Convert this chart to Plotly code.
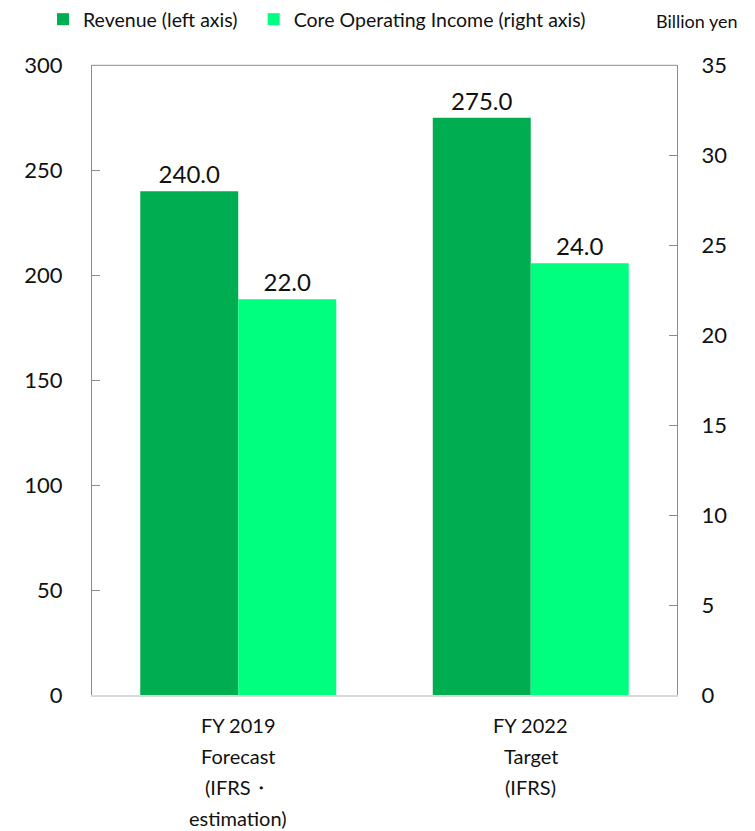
import plotly.graph_objects as go

categories = ["FY 2019", "FY 2022"]
category_lines = [
    ["FY 2019", "Forecast", "(IFRS・", "estimation)"],
    ["FY 2022", "Target", "(IFRS)"],
]
revenue = [240.0, 275.0]
core_income = [22.0, 24.0]

FONT = "Lato, Calibri, Carlito, sans-serif"
AXIS_GRAY = "#8c8c8c"
LINE_STEP = 31  # spacing between category label lines, px

fig = go.Figure()
fig.add_trace(go.Bar(
    x=categories, y=revenue, name="Revenue (left axis)",
    marker=dict(color="#00AD50", line=dict(width=0)),
    text=[f"{v:.1f}" for v in revenue], textposition="outside",
    textfont=dict(size=24, color="#111"), cliponaxis=False,
    offsetgroup="rev", yaxis="y", legend="legend",
))
fig.add_trace(go.Bar(
    x=categories, y=core_income, name="Core Operating Income (right axis)",
    marker=dict(color="#00FF7F", line=dict(width=0)),
    text=[f"{v:.1f}" for v in core_income], textposition="outside",
    textfont=dict(size=24, color="#111"), cliponaxis=False,
    offsetgroup="core", yaxis="y2", legend="legend2",
))

# multi-line category labels with wide line spacing
annotations = []
for cat, lines in zip(categories, category_lines):
    for i, line in enumerate(lines):
        annotations.append(dict(
            text=line, x=cat, xref="x", y=0, yref="paper",
            yanchor="middle", yshift=-30 - i * LINE_STEP,
            showarrow=False, font=dict(size=20, color="#111"),
            borderpad=0,
        ))
annotations.append(dict(
    text="Billion yen", xref="paper", yref="paper",
    x=1.108, y=1.049, xanchor="right", yanchor="bottom",
    showarrow=False, font=dict(size=18, color="#111"),
))

legend_style = dict(orientation="h", y=1.0, yref="container", yanchor="top",
                    xanchor="left", xref="container", font=dict(size=19.5),
                    itemwidth=30, bgcolor="rgba(0,0,0,0)")

fig.update_layout(
    width=755, height=831,
    margin=dict(l=92, r=78, t=64, b=136),
    paper_bgcolor="white", plot_bgcolor="white",
    font=dict(family=FONT, color="#111"),
    barmode="group", bargap=0.33, bargroupgap=0,
    showlegend=True,
    legend=dict(x=0.057, **legend_style),
    legend2=dict(x=0.336, **legend_style),
    xaxis=dict(
        showline=True, linecolor="#d9d9d9", linewidth=2,
        ticks="", showticklabels=False, showgrid=False,
    ),
    yaxis=dict(
        range=[0, 300], dtick=50, showgrid=False, zeroline=False,
        showline=True, linecolor=AXIS_GRAY, linewidth=1,
        ticks="inside", ticklen=8, tickcolor=AXIS_GRAY,
        tickfont=dict(size=22), ticklabelstandoff=24,
    ),
    yaxis2=dict(
        range=[0, 35], dtick=5, overlaying="y", side="right",
        showgrid=False, zeroline=False,
        showline=True, linecolor=AXIS_GRAY, linewidth=1,
        ticks="inside", ticklen=8, tickcolor=AXIS_GRAY,
        tickfont=dict(size=22), ticklabelstandoff=19,
    ),
    shapes=[dict(type="line", xref="paper", yref="paper", x0=0, x1=1, y0=1, y1=1,
                 line=dict(color=AXIS_GRAY, width=1))],
    annotations=annotations,
)

fig.write_html("out.html")
